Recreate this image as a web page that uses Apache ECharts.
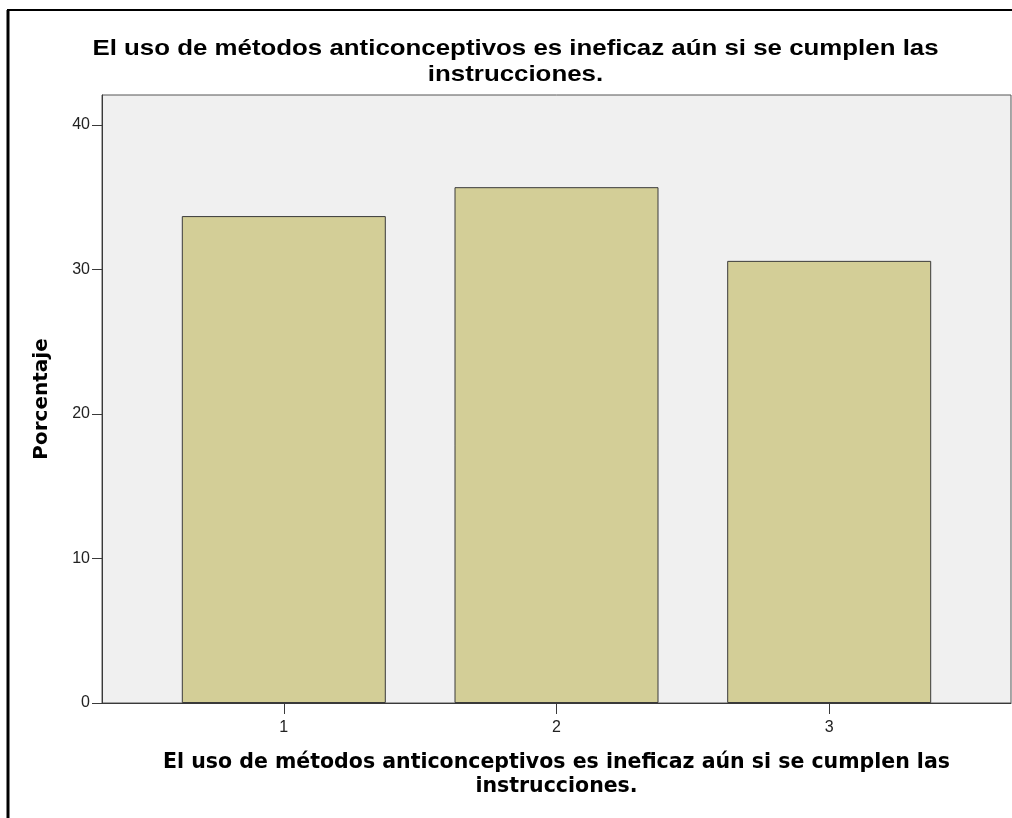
<!DOCTYPE html>
<html>
<head>
<meta charset="utf-8">
<script src="https://cdn.jsdelivr.net/npm/echarts@6/dist/echarts.min.js"></script>
<style>
html,body{margin:0;padding:0;background:#fff;}
#chart{width:1012px;height:818px;}
</style>
</head>
<body>
<div id="chart"></div>
<script>
const categories = [1, 2, 3];
const percentages = [33.7, 35.7, 30.6];
const yTicks = [0, 10, 20, 30, 40];
const titleText = 'El uso de métodos anticonceptivos es ineficaz aún si se cumplen las\ninstrucciones.';
const xAxisTitle = 'El uso de métodos anticonceptivos es ineficaz aún si se cumplen las\ninstrucciones.';
const yAxisTitle = 'Porcentaje';

const chart = echarts.init(document.getElementById('chart'));
chart.setOption({
  animation: false,
  backgroundColor: '#ffffff',
  graphic: [
    { type: 'line', shape: { x1: 8, y1: 10, x2: 8, y2: 818 }, style: { stroke: '#000', lineWidth: 3 } },
    { type: 'line', shape: { x1: 7, y1: 10, x2: 1012, y2: 10 }, style: { stroke: '#000', lineWidth: 2 } },
    {
      type: 'text',
      x: 515.5,
      y: 36,
      scaleX: 1.175,
      style: {
        text: titleText,
        textAlign: 'center',
        textVerticalAlign: 'top',
        fontFamily: 'Liberation Sans',
        fontWeight: 'bold',
        fontSize: 22,
        lineHeight: 26,
        fill: '#000'
      }
    }
  ],
  grid: {
    left: 102, top: 95, right: 1, bottom: 115,
    show: true,
    backgroundColor: '#f0f0f0',
    borderColor: '#555555',
    borderWidth: 1
  },
  xAxis: {
    type: 'value',
    min: 1 / 3,
    max: 11 / 3,
    name: xAxisTitle,
    nameLocation: 'middle',
    nameGap: 48,
    nameTextStyle: {
      fontFamily: 'DejaVu Sans',
      fontWeight: 'bold',
      fontSize: 20.5,
      lineHeight: 24,
      color: '#000'
    },
    axisLine: { show: true, lineStyle: { color: '#3a3a3a', width: 1 } },
    axisTick: { show: true, customValues: categories, length: 11, lineStyle: { color: '#3a3a3a' } },
    axisLabel: { customValues: categories, margin: 17, fontFamily: 'Liberation Sans', fontSize: 16, color: '#222' },
    splitLine: { show: false }
  },
  yAxis: {
    type: 'value',
    min: 0,
    max: 42.08,
    name: yAxisTitle,
    nameLocation: 'middle',
    nameRotate: 90,
    nameGap: 50,
    nameTextStyle: {
      fontFamily: 'DejaVu Sans',
      fontWeight: 'bold',
      fontSize: 20,
      color: '#000'
    },
    axisLine: { show: true, lineStyle: { color: '#3a3a3a', width: 1 } },
    axisTick: { show: true, customValues: yTicks, length: 10, lineStyle: { color: '#3a3a3a' } },
    axisLabel: { customValues: yTicks, margin: 12, fontFamily: 'Liberation Sans', fontSize: 16, color: '#222' },
    splitLine: { show: false }
  },
  series: [{
    type: 'bar',
    data: categories.map((c, i) => [c, percentages[i]]),
    barWidth: 204,
    itemStyle: { color: '#d3ce97', borderColor: '#3a3a3a', borderWidth: 1 }
  }]
});
</script>
</body>
</html>
